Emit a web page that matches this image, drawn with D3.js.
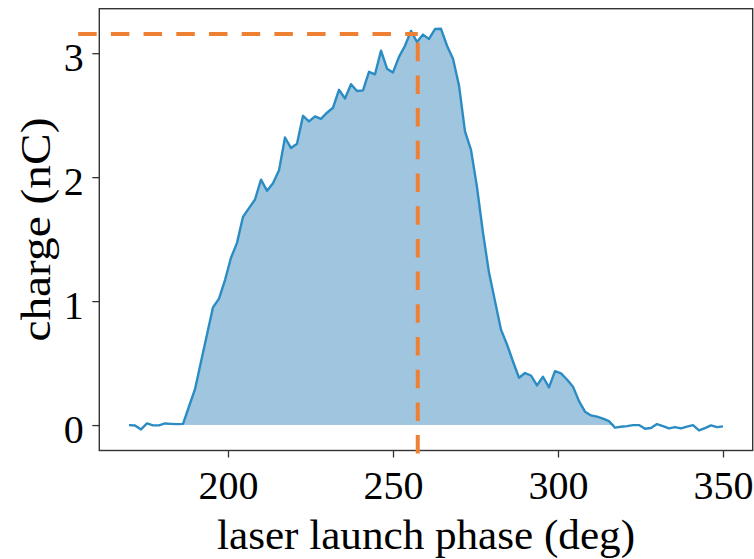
<!DOCTYPE html>
<html>
<head>
<meta charset="utf-8">
<script src="https://cdn.jsdelivr.net/npm/d3@7"></script>
<style>
  body { margin: 0; background: #fff; }
  text { font-family: "Liberation Serif", "DejaVu Serif", serif; fill: #000; }
</style>
</head>
<body>
<svg id="chart" width="754" height="559"></svg>
<script>
// phase scan: 100 evenly spaced launch phases (deg)
const phaseStart = 170, phaseEnd = 350, nPoints = 100;
const phases = d3.range(nPoints).map(i => phaseStart + i * (phaseEnd - phaseStart) / (nPoints - 1));

// measured charge (nC)
const charge = [
    0.000, -0.003, -0.035, 0.014, -0.002, -0.002, 0.013, 0.010, 0.008, 0.010,
    0.15, 0.29, 0.51, 0.73, 0.95, 1.02, 1.17, 1.35, 1.47, 1.68,
    1.75, 1.82, 1.98, 1.89, 1.95, 2.055, 2.32, 2.235, 2.27, 2.495,
    2.45, 2.49, 2.47, 2.52, 2.56, 2.705, 2.635, 2.75, 2.695, 2.70,
    2.85, 2.83, 3.02, 2.875, 2.845, 2.97, 3.06, 3.18, 3.09, 3.15,
    3.115, 3.195, 3.197, 3.06, 2.955, 2.74, 2.37, 2.22, 1.92, 1.55,
    1.23, 1.00, 0.77, 0.65, 0.513, 0.382, 0.42, 0.40, 0.32, 0.39,
    0.304, 0.435, 0.417, 0.368, 0.31, 0.193, 0.108, 0.078, 0.068, 0.052,
    0.032, -0.021, -0.013, -0.008, 0.000, 0.000, -0.029, -0.024, 0.008, -0.008,
    -0.027, -0.016, -0.027, -0.013, 0.000, -0.043, -0.024, -0.002, -0.016, -0.010
];

// shaded range (indices into the scan)
const fillStart = 9, fillEnd = 81;

// operating point guide lines
const markPhase = 257.5, markCharge = 3.154;
const guideStartPhase = 154.6, guideBottomCharge = -0.23;

const xTicks = [200, 250, 300, 350];
const yTicks = [0, 1, 2, 3];

const data = phases.map((p, i) => ({phase: p, q: charge[i], i: i}));

const margin = {top: 8.7, right: 1.3, bottom: 108.5, left: 99.3};
const W = 754, H = 559;
const svg = d3.select('#chart');

// matplotlib-like 5% margins
const xExt = d3.extent(phases), yExt = d3.extent(charge);
const xPad = (xExt[1] - xExt[0]) * 0.05, yPad = (yExt[1] - yExt[0]) * 0.05;

const x = d3.scaleLinear()
    .domain([xExt[0] - xPad, xExt[1] + xPad])
    .range([margin.left, W - margin.right]);
const y = d3.scaleLinear()
    .domain([yExt[0] - yPad, yExt[1] + yPad])
    .range([H - margin.bottom, margin.top]);

const fillColor = '#a0c6df', lineColor = '#2b8cc4', guideColor = '#ee8033', axisColor = '#333';

// shaded area
const area = d3.area()
    .defined(d => d.i >= fillStart && d.i <= fillEnd)
    .x(d => x(d.phase))
    .y0(y(0))
    .y1(d => y(Math.max(d.q, 0)));

svg.append('path')
    .datum(data)
    .attr('d', area)
    .attr('fill', fillColor);

// measured curve
const line = d3.line()
    .x(d => x(d.phase))
    .y(d => y(d.q));

svg.append('path')
    .datum(data)
    .attr('d', line)
    .attr('fill', 'none')
    .attr('stroke', lineColor)
    .attr('stroke-width', 2.4)
    .attr('stroke-linejoin', 'round');

// axes
const xAxis = svg.append('g')
    .attr('transform', `translate(0,${H - margin.bottom})`)
    .call(d3.axisBottom(x).tickValues(xTicks).tickSize(7).tickPadding(10).tickFormat(d3.format('d')));
const yAxis = svg.append('g')
    .attr('transform', `translate(${margin.left},0)`)
    .call(d3.axisLeft(y).tickValues(yTicks).tickSize(7).tickPadding(8).tickFormat(d3.format('d')));

[xAxis, yAxis].forEach(g => {
    g.select('.domain').remove();
    g.selectAll('.tick line').attr('stroke', axisColor).attr('stroke-width', 1.3);
    g.selectAll('.tick text').attr('font-size', 40).attr('fill', '#000');
});
xAxis.selectAll('.tick text').attr('dy', null).attr('y', 48);
yAxis.selectAll('.tick text').attr('dy', 17).attr('x', -15.5);

// frame
svg.append('rect')
    .attr('x', x.range()[0])
    .attr('y', y.range()[1])
    .attr('width', x.range()[1] - x.range()[0])
    .attr('height', y.range()[0] - y.range()[1])
    .attr('fill', 'none')
    .attr('stroke', axisColor)
    .attr('stroke-width', 1.4);

// guide lines (drawn unclipped, like the original)
svg.append('line')
    .attr('x1', x(guideStartPhase)).attr('x2', x(markPhase))
    .attr('y1', y(markCharge)).attr('y2', y(markCharge))
    .attr('stroke', guideColor).attr('stroke-width', 4)
    .attr('stroke-dasharray', '18.5,14.2');
svg.append('line')
    .attr('x1', x(markPhase)).attr('x2', x(markPhase))
    .attr('y1', y(guideBottomCharge)).attr('y2', y(markCharge))
    .attr('stroke', guideColor).attr('stroke-width', 4)
    .attr('stroke-dasharray', '18.5,14.2');

// axis labels
svg.append('text')
    .attr('x', (x.range()[0] + x.range()[1]) / 2)
    .attr('y', 549)
    .attr('text-anchor', 'middle')
    .attr('font-size', 42)
    .attr('textLength', 418)
    .attr('lengthAdjust', 'spacingAndGlyphs')
    .text('laser launch phase (deg)');

svg.append('text')
    .attr('transform', `translate(50,${(y.range()[0] + y.range()[1]) / 2}) rotate(-90)`)
    .attr('text-anchor', 'middle')
    .attr('font-size', 42)
    .attr('textLength', 224)
    .attr('lengthAdjust', 'spacingAndGlyphs')
    .text('charge (nC)');
</script>
</body>
</html>
